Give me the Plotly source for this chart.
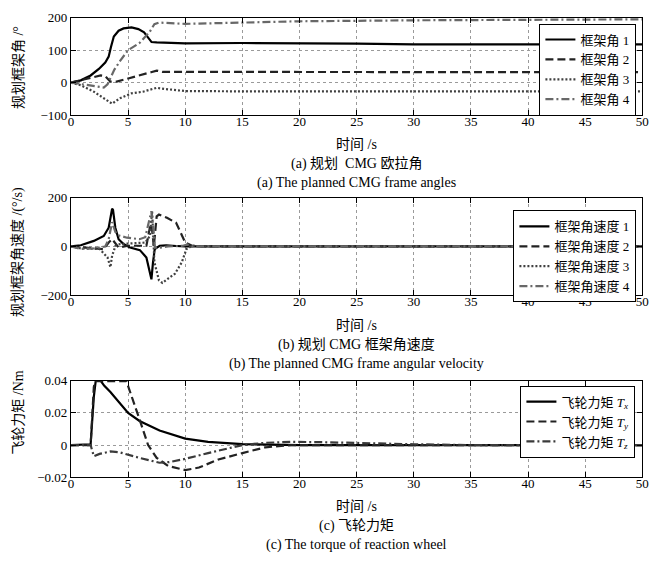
import plotly.graph_objects as go

# ---------------- data ----------------
# (a) planned CMG frame angles (deg)
t_a1 = [0, 0.86, 1.72, 2.44, 3.0, 3.3, 3.5, 3.75, 4.17, 4.6, 5.3, 5.9, 6.4, 6.8, 7.05, 7.5, 8.5, 10, 15, 20, 25, 30, 40, 50]
a1 = [0, 7, 22, 42, 62, 80, 110, 142, 160, 167, 170, 165, 155, 137, 125, 124, 122, 121, 122, 122, 120, 118, 118, 118]
t_a2 = [0, 1, 2, 2.6, 3.0, 3.45, 4, 5, 6, 7, 7.5, 8, 10, 15, 20, 30, 40, 50]
a2 = [0, 8, 17, 22, 20, 3, 3, 12, 22, 32, 37, 33, 33, 33, 32, 32, 32, 32]
t_a3 = [0, 0.86, 2.0, 2.87, 3.6, 4.3, 5.3, 6.3, 7.5, 8.3, 10, 15, 20, 30, 40, 50]
a3 = [0, -8, -28, -48, -65, -48, -33, -28, -16, -20, -26, -27, -27, -27, -27, -27]
t_a4 = [0, 1, 2, 2.87, 3.2, 3.45, 3.8, 4.3, 5.0, 6.0, 6.5, 6.9, 7.3, 7.7, 10, 15, 20, 30, 40, 50]
a4 = [0, -5, -12, -15, -5, 12, 40, 67, 100, 122, 140, 157, 180, 185, 181, 185, 189, 192, 194, 195]

# (b) planned CMG frame angular velocity (deg/s)
t_v1 = [0, 0.86, 2.0, 2.87, 3.3, 3.45, 3.6, 3.68, 3.88, 4.17, 4.6, 5.17, 6.03, 6.6, 6.9, 7.04, 7.18, 7.33, 7.76, 8.33, 9.2, 10, 50]
v1 = [0, 5, 23, 43, 77, 125, 155, 150, 77, 30, 10, -4, -15, -45, -99, -135, -65, -11, 3, 5, 2, 0, 0]
t_v2 = [0, 1, 2, 2.87, 3.3, 3.6, 4.17, 5, 6.6, 6.9, 7.05, 7.25, 7.5, 7.7, 8.4, 9.2, 9.6, 10, 10.6, 11.5, 50]
v2 = [0, -3, -8, -11, 16, 30, -4, 3, 3, 77, 90, 0, 124, 131, 118, 97, 57, 16, 3, 0, 0]
t_v3 = [0, 0.86, 2.5, 3.2, 3.45, 3.6, 3.9, 4.3, 6.5, 6.9, 7.1, 7.3, 7.7, 8.0, 8.5, 9.1, 9.7, 10.1, 10.6, 11.5, 50]
v3 = [0, -8, -10, -45, -85, -38, 3, 10, 16, 43, 145, -65, -139, -150, -132, -112, -65, -11, 3, 0, 0]
t_v4 = [0, 0.86, 2.0, 3.0, 3.3, 3.6, 3.88, 4.2, 4.9, 6.0, 6.5, 6.8, 7.04, 7.2, 7.35, 7.8, 8.5, 9.8, 10.2, 10.6, 50]
v4 = [0, -10, -8, 0, 30, 100, 60, 45, 36, 30, 38, 100, 145, 80, -5, -5, 0, 3, 8, 0, 0]

# (c) reaction wheel torque (Nm)
t_tx = [0, 1.72, 2.0, 2.2, 2.5, 2.9, 3.45, 5.0, 6.0, 7.75, 10, 12, 15, 20, 50]
tx = [0, 0.0005, 0.03, 0.042, 0.041, 0.037, 0.033, 0.02, 0.015, 0.009, 0.004, 0.002, 0.0006, 0, 0]
t_ty = [0, 1.72, 2.0, 2.1, 4.85, 5.5, 6.0, 6.75, 7.5, 8.5, 10, 11.2, 12.9, 15, 17, 19.3, 50]
ty = [0, 0, 0.036, 0.0398, 0.0398, 0.027, 0.016, 0.0, -0.008, -0.013, -0.0156, -0.014, -0.009, -0.005, -0.0014, 0, 0]
t_tz = [0, 1.72, 2.0, 2.5, 3.45, 4.3, 6.0, 7.75, 8.6, 10, 12, 15, 17, 19.3, 22, 25, 30, 35, 50]
tz = [0, 0, -0.007, -0.0055, -0.004, -0.0046, -0.008, -0.011, -0.0106, -0.0086, -0.005, 0, 0.0014, 0.002, 0.0018, 0.0012, 0.0005, 0, 0]

names_a = ["框架角 1", "框架角 2", "框架角 3", "框架角 4"]
names_v = ["框架角速度 1", "框架角速度 2", "框架角速度 3", "框架角速度 4"]
names_t = ["飞轮力矩 <i>T</i><sub><i>x</i></sub>", "飞轮力矩 <i>T</i><sub><i>y</i></sub>", "飞轮力矩 <i>T</i><sub><i>z</i></sub>"]

x_ticks = [0, 5, 10, 15, 20, 25, 30, 35, 40, 45, 50]

# ---------------- styling ----------------
W, H = 670, 565
FONT = "Liberation Serif, Noto Sans CJK SC, serif"
styles = [
    dict(color="#000000", width=2.2, dash="solid"),
    dict(color="#222222", width=2.2, dash="8px,4px"),
    dict(color="#404040", width=2.2, dash="2px,2px"),
    dict(color="#686868", width=2.2, dash="8px,3px,2px,3px"),
]
style_tz = dict(color="#3a3a3a", width=2.2, dash="8px,3px,2px,3px")

def px_x(p):
    return p / W

def px_y(p):
    return 1 - p / H

x_dom = [px_x(69), px_x(649)]
panels = [  # (top px, bottom px)
    (11, 111),
    (196, 296),
    (384, 483),
]

fig = go.Figure()

series = [
    (1, [(t_a1, a1), (t_a2, a2), (t_a3, a3), (t_a4, a4)], names_a, "legend", styles),
    (2, [(t_v1, v1), (t_v2, v2), (t_v3, v3), (t_v4, v4)], names_v, "legend2", styles),
    (3, [(t_tx, tx), (t_ty, ty), (t_tz, tz)], names_t, "legend3", [styles[0], styles[1], style_tz]),
]
for k, data, names, leg, sty in series:
    for (tt, vv), nm, st in zip(data, names, sty):
        fig.add_trace(go.Scatter(
            x=tt, y=vv, name=nm, mode="lines", line=st,
            xaxis="x" if k == 1 else f"x{k}", yaxis="y" if k == 1 else f"y{k}",
            legend=leg,
        ))

axis_common = dict(
    showline=True, linecolor="black", linewidth=1, mirror="ticks",
    ticks="inside", ticklen=5, tickcolor="black", tickwidth=1,
    showgrid=True, gridcolor="#9a9a9a", griddash="dot", gridwidth=1,
    zeroline=False, tickfont=dict(family=FONT, size=13, color="black"),
)

yranges = [[-100, 200], [-200, 200], [-0.02, 0.04]]
yticks = [[-100, 0, 100, 200], [-200, 0, 200], [-0.02, 0, 0.02, 0.04]]
ytext = [["−100", "0", "100", "200"], ["−200", "0", "200"], ["−0.02", "0", "0.02", "0.04"]]

layout = dict(
    width=W, height=H, margin=dict(l=0, r=0, t=0, b=0),
    paper_bgcolor="white", plot_bgcolor="white",
    font=dict(family=FONT, size=13, color="black"),
)
for i, (top, bot) in enumerate(panels):
    k = i + 1
    xn = "xaxis" if k == 1 else f"xaxis{k}"
    yn = "yaxis" if k == 1 else f"yaxis{k}"
    xa = "x" if k == 1 else f"x{k}"
    ya = "y" if k == 1 else f"y{k}"
    layout[xn] = dict(axis_common, domain=x_dom, range=[0, 50], tickvals=x_ticks,
                      anchor=ya, ticklabelstandoff=-6)
    layout[yn] = dict(axis_common, domain=[px_y(bot), px_y(top)], range=yranges[i],
                      tickvals=yticks[i], ticktext=ytext[i], anchor=xa,
                      ticklabelstandoff=0)

leg_common = dict(bgcolor="white", bordercolor="black", borderwidth=1,
                  font=dict(family=FONT, size=13, color="black"),
                  xanchor="right", yanchor="top", tracegroupgap=0)
layout["legend"] = dict(leg_common, x=px_x(643), y=px_y(17))
layout["legend2"] = dict(leg_common, x=px_x(643), y=px_y(209))
layout["legend3"] = dict(leg_common, x=px_x(642), y=px_y(389))

fig.update_layout(**layout)

cx = (x_dom[0] + x_dom[1]) / 2
ann = []
texts = [
    (141, "时间 /s"), (161.5, "(a) 规划  CMG 欧拉角"), (181, "(a) The planned CMG frame angles"),
    (327, "时间 /s"), (347, "(b) 规划 CMG 框架角速度"), (367, "(b) The planned CMG frame angular velocity"),
    (513, "时间 /s"), (533, "(c) 飞轮力矩"), (553, "(c) The torque of reaction wheel"),
]
for yp, tx_ in texts:
    ann.append(dict(text=tx_, x=cx, y=px_y(yp), xref="paper", yref="paper",
                    xanchor="center", yanchor="middle", showarrow=False,
                    font=dict(family=FONT, size=14, color="black")))
ytitles = [(62, "规划框架角 /°"), (252, "规划框架角速度 /(°/s)"), (416, "飞轮力矩 /Nm")]
for yp, tx_ in ytitles:
    ann.append(dict(text=tx_, x=px_x(16), y=px_y(yp), xref="paper", yref="paper",
                    xanchor="center", yanchor="middle", showarrow=False, textangle=-90,
                    font=dict(family=FONT, size=14, color="black")))
fig.update_layout(annotations=ann)

fig.write_html("out.html")
